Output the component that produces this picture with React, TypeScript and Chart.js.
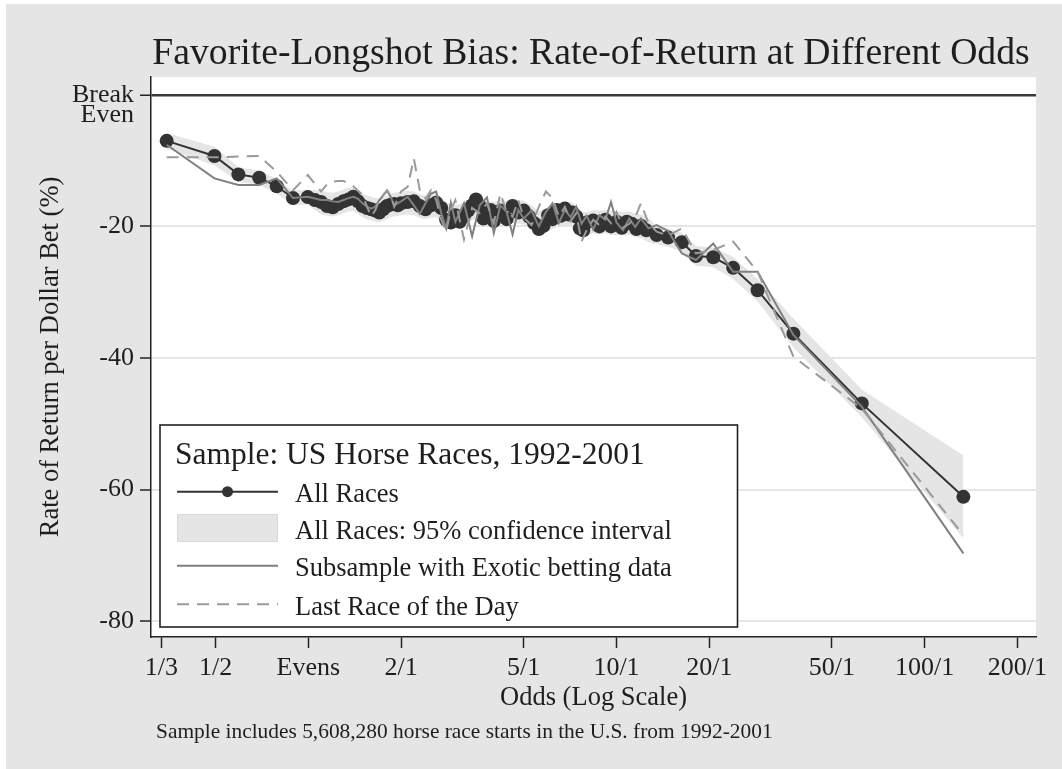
import React, { useEffect, useRef } from 'react';
import { Chart, registerables } from 'chart.js';

Chart.register(...registerables);

const FONT = '"Liberation Serif", "Times New Roman", serif';
const TEXT = '#1e1e1e';

const X_MIN = 0.3087;
const X_MAX = 229.7;
const Y_MIN = -82.4;
const Y_MAX = 2.7;

const allRacesOdds = [
  0.347, 0.496, 0.593, 0.693, 0.79, 0.892, 0.996,
  1.05, 1.1, 1.15, 1.2, 1.25, 1.3, 1.35, 1.4, 1.45, 1.5, 1.55, 1.6, 1.65, 1.7, 1.75, 1.8, 1.85, 1.9, 1.95, 2.0,
  2.1, 2.2, 2.3, 2.4, 2.5, 2.6, 2.7, 2.8, 2.9, 3.0, 3.1, 3.2, 3.3, 3.4, 3.5, 3.6, 3.7, 3.8, 3.9, 4.0,
  4.2, 4.4, 4.6, 4.8, 5.0, 5.2, 5.4, 5.6, 5.8, 6.0, 6.2, 6.4, 6.6, 6.8, 7.0, 7.2, 7.4, 7.6, 7.8, 8.0,
  8.4, 8.8, 9.2, 9.6, 10.0, 10.4, 10.8, 11.2, 11.6, 12.0, 12.5,
  13.5, 14.7, 16.3, 18.1, 20.6, 23.9, 28.7, 37.5, 62.5, 133.5,
];
const allRaces = [
  -7.0, -9.3, -12.1, -12.6, -13.9, -15.7, -15.55,
  -16.0, -16.3, -16.9, -17.1, -16.6, -16.2, -15.9, -15.5, -16.2, -16.9, -17.2, -17.4, -17.6, -17.9, -17.4, -16.9, -16.7, -16.6, -16.8, -16.5,
  -16.3, -16.2, -16.9, -17.4, -16.8, -16.4, -17.2, -19.0, -19.4, -18.3, -19.3, -18.5, -17.6, -16.8, -15.9, -16.9, -18.8, -18.4, -17.5, -19.2,
  -17.6, -18.9, -16.9, -17.9, -17.6, -18.5, -19.5, -20.4, -19.9, -18.3, -18.9, -17.5, -18.4, -17.3, -18.2, -17.9, -18.5, -20.3, -20.6, -19.4,
  -19.1, -20.0, -19.0, -20.0, -19.3, -20.2, -19.3, -19.6, -20.4, -19.9, -20.6,
  -21.3, -21.7, -22.4, -24.5, -24.7, -26.3, -29.7, -36.3, -46.9, -61.1,
];

const gridOdds = [
  0.347, 0.496, 0.593, 0.693, 0.79, 0.892, 0.996,
  1.1, 1.15, 1.2, 1.25, 1.3, 1.35, 1.4, 1.45, 1.5, 1.55, 1.6, 1.65, 1.7,
  1.8, 1.85, 1.9,
  2.0, 2.1, 2.2, 2.3, 2.4, 2.5, 2.6, 2.7, 2.8, 2.9, 3.0,
  3.2, 3.4, 3.6, 3.8, 4.0, 4.2, 4.4, 4.6, 4.8, 5.0,
  5.3, 5.6, 5.9, 6.2, 6.5, 6.8, 7.1, 7.4, 7.7, 8.0,
  8.4, 8.8, 9.2, 9.6, 10.0, 10.5, 11.0, 11.5, 12.0, 12.7,
  13.5, 14.7, 16.3, 18.1, 20.6, 23.9, 28.7, 37.5, 62.5, 133.5,
];

const ciHigh = [
  -5.8, -7.9, -11.0, -11.5, -12.8, -14.6, -14.4,
  -14.6, -14.8, -14.9, -14.7, -14.4, -14.1, -14.1, -14.5, -15.0, -15.3, -15.5, -15.7, -15.8,
  -15.3, -15.0, -14.9,
  -14.7, -14.6, -14.7, -15.1, -15.3, -15.1, -15.0, -15.6, -16.3, -16.7, -16.7,
  -16.5, -15.4, -15.2, -16.1, -16.3, -16.0, -16.1, -15.8, -16.0, -16.1,
  -16.8, -17.7, -17.3, -16.8, -16.4, -16.2, -16.3, -16.8, -17.8, -17.8,
  -17.5, -17.6, -17.5, -17.7, -17.7, -17.8, -17.7, -18.0, -18.2, -18.8,
  -19.9, -20.3, -21.0, -23.0, -23.2, -24.6, -28.0, -34.0, -44.8, -54.8,
];

const ciLow = [
  -8.2, -10.7, -13.2, -13.7, -15.0, -16.8, -16.7,
  -18.2, -18.4, -18.5, -18.3, -18.0, -17.7, -17.7, -18.1, -18.6, -18.9, -19.1, -19.3, -19.4,
  -18.9, -18.6, -18.5,
  -18.3, -18.2, -18.3, -18.7, -18.9, -18.7, -18.6, -19.2, -19.9, -20.3, -20.3,
  -20.1, -19.0, -18.8, -19.7, -19.9, -19.6, -19.7, -19.4, -19.6, -19.7,
  -20.4, -21.3, -20.9, -20.4, -20.0, -19.8, -19.9, -20.4, -21.4, -21.4,
  -21.1, -21.2, -21.1, -21.3, -21.3, -21.4, -21.3, -21.6, -21.8, -22.4,
  -22.7, -23.1, -23.8, -26.0, -26.2, -28.0, -31.4, -38.4, -49.0, -67.4,
];

const exoticSubsample = [
  -7.6, -12.7, -13.7, -13.7, -12.7, -15.7, -15.5,
  -16.0, -16.0, -16.2, -16.3, -16.0, -15.7, -15.5, -15.8, -16.5, -17.0, -17.3, -17.0, -16.0,
  -14.6, -15.5, -16.8,
  -16.2, -15.5, -16.8, -18.1, -16.5, -15.0, -14.7, -18.0, -20.3, -16.4, -19.3,
  -16.5, -21.5, -16.8, -15.6, -21.0, -16.8, -17.8, -21.2, -17.5, -18.8,
  -17.6, -20.0, -17.8, -16.5, -19.5, -17.5, -18.6, -17.0, -19.6, -18.4,
  -20.5, -18.3, -19.0, -16.3, -19.4, -20.6, -18.8, -20.1, -18.8, -20.3,
  -19.8, -20.7, -24.1, -25.1, -22.6, -26.9, -26.9, -36.5, -47.4, -69.7,
];

const lastRaceOfDay = [
  -9.5, -9.5, -9.4, -9.3, -11.7, -14.5, -12.2,
  -14.7, -13.6, -13.2, -13.1, -13.1, -13.5, -13.9, -14.6, -15.2, -17.0, -18.5, -17.5, -16.0,
  -14.5, -15.3, -17.0,
  -14.7, -14.0, -9.7, -14.5, -15.8, -14.5, -16.0, -19.0, -20.8, -17.5, -16.0,
  -22.0, -17.2, -18.0, -16.5, -19.5, -15.0, -17.8, -18.5, -16.0, -18.7,
  -19.8, -17.0, -14.7, -15.7, -18.5, -17.0, -19.2, -18.0, -22.3, -20.6,
  -19.0, -19.8, -18.5, -19.5, -17.8, -20.2, -19.6, -18.6, -16.5, -19.5,
  -20.8, -21.4, -20.3, -24.1, -23.6, -22.3, -26.9, -39.8, -47.7, -66.9,
];

const xTickValues = [1 / 3, 0.5, 1, 2, 5, 10, 20, 50, 100, 200];
const xTickLabels = ['1/3', '1/2', 'Evens', '2/1', '5/1', '10/1', '20/1', '50/1', '100/1', '200/1'];
const yTickValues = [-80, -60, -40, -20, 0];
const yTickLabels: (string | string[])[] = ['-80', '-60', '-40', '-20', ['', 'Break', 'Even']];

const titleText = 'Favorite-Longshot Bias: Rate-of-Return at Different Odds';
const xTitle = 'Odds (Log Scale)';
const yTitle = 'Rate of Return per Dollar Bet (%)';
const footnote = 'Sample includes 5,608,280 horse race starts in the U.S. from 1992-2001';
const legendTitle = 'Sample: US Horse Races, 1992-2001';
const legendLabels = [
  'All Races',
  'All Races: 95% confidence interval',
  'Subsample with Exotic betting data',
  'Last Race of the Day',
];

const COL_MAIN = '#333333';
const COL_EXOTIC = '#808080';
const COL_LAST = '#9a9a9a';
const COL_BAND = '#e5e5e5';
const COL_BG = '#e5e5e5';

const pts = (xs: number[], ys: number[]) => xs.map((x, i) => ({ x, y: ys[i] }));

const decorPlugin = {
  id: 'decor',
  beforeDraw(chart: any) {
    const { ctx, width, height, chartArea: a } = chart;
    ctx.save();
    ctx.fillStyle = '#ffffff';
    ctx.fillRect(0, 0, width, height);
    ctx.fillStyle = COL_BG;
    ctx.fillRect(6, 4, width - 6, height - 4);
    ctx.fillStyle = '#ffffff';
    ctx.fillRect(a.left, a.top, a.right - a.left, a.bottom - a.top);
    ctx.restore();
  },
  afterDraw(chart: any) {
    const { ctx, chartArea: a } = chart;
    const cx = (a.left + a.right) / 2;
    const cy = (a.top + a.bottom) / 2;
    ctx.save();
    ctx.fillStyle = TEXT;
    ctx.textBaseline = 'alphabetic';

    ctx.font = `37.7px ${FONT}`;
    ctx.textAlign = 'center';
    ctx.fillText(titleText, 591, 64);

    ctx.font = `26.5px ${FONT}`;
    ctx.fillText(xTitle, cx, 705);

    ctx.save();
    ctx.translate(57.5, cy);
    ctx.rotate(-Math.PI / 2);
    ctx.fillText(yTitle, 0, 0);
    ctx.restore();

    ctx.font = `21.4px ${FONT}`;
    ctx.textAlign = 'left';
    ctx.fillText(footnote, 156, 738);

    const L = 160, T = 425, R = 737.5, B = 627;
    ctx.fillStyle = '#ffffff';
    ctx.fillRect(L, T, R - L, B - T);
    ctx.strokeStyle = '#222';
    ctx.lineWidth = 1.6;
    ctx.strokeRect(L, T, R - L, B - T);

    ctx.fillStyle = TEXT;
    ctx.font = `31.5px ${FONT}`;
    ctx.fillText(legendTitle, 175, 464);

    const sx0 = 177, sx1 = 278, tx = 295;
    const rowC = [491.7, 528.3, 565.7, 604.3];
    ctx.font = `26.5px ${FONT}`;
    legendLabels.forEach((lab, i) => {
      ctx.fillStyle = TEXT;
      ctx.fillText(lab, tx, rowC[i] + 10.5);
    });

    ctx.lineCap = 'butt';
    ctx.strokeStyle = COL_MAIN;
    ctx.lineWidth = 2;
    ctx.beginPath();
    ctx.moveTo(sx0, rowC[0]);
    ctx.lineTo(sx1, rowC[0]);
    ctx.stroke();
    ctx.fillStyle = COL_MAIN;
    ctx.beginPath();
    ctx.arc((sx0 + sx1) / 2, rowC[0], 5.5, 0, Math.PI * 2);
    ctx.fill();

    ctx.fillStyle = COL_BAND;
    ctx.fillRect(sx0, 514, sx1 - sx0, 28);
    ctx.strokeStyle = '#dadada';
    ctx.lineWidth = 1;
    ctx.strokeRect(sx0 + 0.5, 514.5, sx1 - sx0 - 1, 27);

    ctx.strokeStyle = COL_EXOTIC;
    ctx.lineWidth = 2;
    ctx.beginPath();
    ctx.moveTo(sx0, rowC[2]);
    ctx.lineTo(sx1, rowC[2]);
    ctx.stroke();

    ctx.strokeStyle = COL_LAST;
    ctx.setLineDash([12, 8]);
    ctx.beginPath();
    ctx.moveTo(sx0, rowC[3]);
    ctx.lineTo(sx1, rowC[3]);
    ctx.stroke();
    ctx.setLineDash([]);

    ctx.restore();
  },
};

export default function App() {
  const canvasRef = useRef<HTMLCanvasElement | null>(null);

  useEffect(() => {
    document.body.style.margin = '0';
    const canvas = canvasRef.current;
    if (!canvas) return;

    const chart = new Chart(canvas, {
      type: 'line',
      data: {
        datasets: [
          {
            label: legendLabels[3],
            data: pts(gridOdds, lastRaceOfDay),
            borderColor: COL_LAST,
            borderWidth: 2,
            borderDash: [12, 8],
            pointRadius: 0,
            fill: false,
            tension: 0,
          },
          {
            label: legendLabels[2],
            data: pts(gridOdds, exoticSubsample),
            borderColor: COL_EXOTIC,
            borderWidth: 2,
            pointRadius: 0,
            fill: false,
            tension: 0,
          },
          {
            label: legendLabels[0],
            data: pts(allRacesOdds, allRaces),
            borderColor: COL_MAIN,
            borderWidth: 2,
            pointRadius: 7,
            pointBackgroundColor: COL_MAIN,
            pointBorderWidth: 0,
            fill: false,
            tension: 0,
          },
          {
            label: 'CI upper',
            data: pts(gridOdds, ciHigh),
            borderColor: 'rgba(0,0,0,0)',
            borderWidth: 0,
            pointRadius: 0,
            backgroundColor: COL_BAND,
            fill: '+1',
            tension: 0,
          },
          {
            label: 'CI lower',
            data: pts(gridOdds, ciLow),
            borderColor: 'rgba(0,0,0,0)',
            borderWidth: 0,
            pointRadius: 0,
            fill: false,
            tension: 0,
          },
        ],
      },
      options: {
        animation: false,
        responsive: false,
        events: [],
        layout: { padding: { top: 77, right: 26, bottom: 0, left: 0 } },
        plugins: {
          legend: { display: false },
          tooltip: { enabled: false },
          title: { display: false },
        },
        scales: {
          x: {
            type: 'logarithmic',
            bounds: 'data',
            min: X_MIN,
            max: X_MAX,
            afterBuildTicks: (axis: any) => {
              axis.ticks = xTickValues.map((v) => ({ value: v }));
              axis.min = X_MIN;
              axis.max = X_MAX;
            },
            afterFit: (axis: any) => {
              axis.height = 132;
            },
            grid: {
              drawOnChartArea: false,
              drawTicks: true,
              tickLength: 11,
              tickColor: '#222',
              tickWidth: 1.5,
              color: '#222',
            },
            border: { display: true, color: '#222', width: 1.5 },
            ticks: {
              autoSkip: false,
              maxRotation: 0,
              minRotation: 0,
              padding: 5,
              color: TEXT,
              font: { family: FONT, size: 26, lineHeight: 1.2 },
              callback: (_v: any, i: number) => xTickLabels[i],
            },
          },
          y: {
            type: 'linear',
            bounds: 'data',
            min: Y_MIN,
            max: Y_MAX,
            afterBuildTicks: (axis: any) => {
              axis.ticks = yTickValues.map((v) => ({ value: v }));
              axis.min = Y_MIN;
              axis.max = Y_MAX;
            },
            afterFit: (axis: any) => {
              axis.width = 151;
            },
            grid: {
              drawOnChartArea: true,
              drawTicks: true,
              tickLength: 11,
              tickColor: '#222',
              tickWidth: 1.5,
              color: (c: any) => (c.tick && c.tick.value === 0 ? '#3a3a3a' : '#e6e6e6'),
              lineWidth: (c: any) => (c.tick && c.tick.value === 0 ? 2.5 : 2),
            },
            border: { display: true, color: '#222', width: 1.5 },
            ticks: {
              autoSkip: false,
              padding: 6,
              color: TEXT,
              font: { family: FONT, size: 26, lineHeight: 0.8 },
              callback: (_v: any, i: number) => yTickLabels[i],
            },
          },
        },
      },
      plugins: [decorPlugin],
    } as any);

    return () => {
      chart.destroy();
    };
  }, []);

  return (
    <div style={{ position: 'fixed', left: 0, top: 0, width: 1062, height: 769 }}>
      <canvas ref={canvasRef} width={1062} height={769} style={{ display: 'block' }} />
    </div>
  );
}
